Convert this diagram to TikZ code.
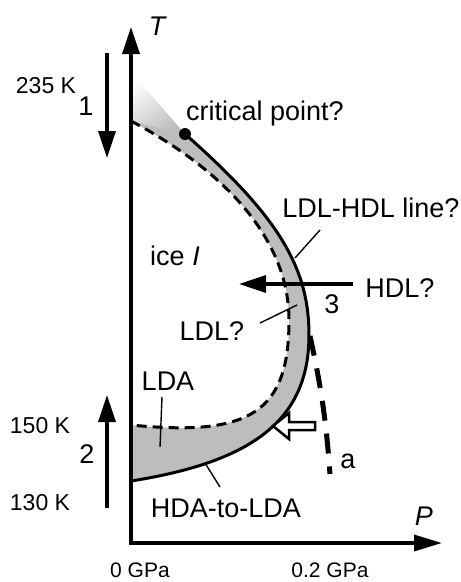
\documentclass[tikz,border=0pt]{standalone}
\usepackage{fontspec}
\setmainfont{Liberation Sans}
\usetikzlibrary{arrows.meta,positioning}
\definecolor{band}{gray}{0.74}

\begin{document}
\begin{tikzpicture}[x=1pt,y=-1pt,
    lbl/.style={anchor=base,inner sep=0pt,font=\fontsize{27}{30}\selectfont},
    tick/.style={anchor=base,inner sep=0pt,font=\fontsize{23}{26}\selectfont},
    leader/.style={line width=1.4pt},
    bigarrow/.style={line width=3.5pt,-{Triangle[length=27pt,width=17pt]}},
    dashline/.style={line width=3pt,dash pattern=on 10pt off 6pt}]
  \useasboundingbox (0,0) rectangle (461,582);

  % ends of the two lines
  \coordinate (s0) at (185,134);
  \coordinate (sm) at (309,335);
  \coordinate (s1) at (131,481);
  \coordinate (d0) at (131,121);
  \coordinate (dm) at (289,320);
  \coordinate (d1) at (131,425);

  % shaded band between the two lines
  \shade[top color=white,bottom color=band,shading angle=35]
    (131,72) -- (s0) -- (d0) -- cycle;
  \fill[band,even odd rule]
    (d0) -- (s0) .. controls (278,216) and (309,267) .. (sm)
      .. controls (309,418) and (255.6,461.4) .. (s1) -- cycle
    (d0) .. controls (233.7,175.6) and (289,245.3) .. (dm)
      .. controls (289,412) and (251,437) .. (d1) -- cycle;

  \draw[dashline] (d0) .. controls (233.7,175.6) and (289,245.3) .. (dm)
      .. controls (289,412) and (251,437) .. (d1);
  \draw[line width=3pt] (s0) .. controls (278,216) and (309,267) .. (sm)
      .. controls (309,418) and (255.6,461.4) .. (s1);
  \node[circle,fill,inner sep=0pt,minimum size=12pt] (cp) at (s0) {};

  % line a
  \coordinate (a1) at (310,336);
  \coordinate (a2) at (330,474);
  \draw[line width=5pt,dash pattern=on 20pt off 13pt] (a1) to[bend left=4] (a2);

  % axes
  \coordinate (O) at (131,543);
  \coordinate (Ttip) at (131,27);
  \coordinate (Ptip) at (442,543);
  \draw[line width=3.5pt,{Triangle[length=27pt,width=17pt]}-{Triangle[length=28pt,width=16pt]}]
    (Ttip) -- (O) -- (Ptip);
  \node[lbl] (T) at (157,35) {\itshape T};
  \node[lbl] (P) at (424,525) {\itshape P};

  % paths 1, 2, 3
  \coordinate (s1a) at (107,53);
  \coordinate (e1a) at (107,158);
  \draw[bigarrow] (s1a) -- (e1a);
  \coordinate (s2a) at (107,508);
  \coordinate (e2a) at (107,395);
  \draw[bigarrow] (s2a) -- (e2a);
  \coordinate (s3a) at (353,284);
  \coordinate (e3a) at (239,284);
  \draw[bigarrow] (s3a) -- (e3a);
  \node[lbl] (n1) at (86,115) {1};
  \node[lbl] (n2) at (87,463) {2};
  \node[lbl] (n3) at (332,313) {3};

  % open arrow
  \draw[line width=2.5pt,fill=white,line join=miter]
    (315,422) -- (289,422) -- (289,413) -- (273,426) -- (289,439) -- (289,430)
    -- (315,430) -- cycle;

  % ticks
  \node[tick] (k235) at (46,93) {235 K};
  \node[tick] (k150) at (40,433) {150 K};
  \node[tick] (k130) at (40,510) {130 K};
  \node[tick,font=\fontsize{21}{24}\selectfont] (p0) at (140,577) {0 GPa};
  \node[tick,font=\fontsize{21}{24}\selectfont] (p2) at (330,577) {0.2 GPa};

  % labels
  \node[lbl] (crit) at (265,120) {critical point?};
  \node[lbl] (ldlhdl) at (371,217) {LDL-HDL line?};
  \node[lbl] (hdl) at (400,297) {HDL?};
  \node[lbl] (ice) at (175,265) {ice \textit{I}};
  \node[lbl] (ldl) at (212,340) {LDL?};
  \node[lbl] (lda) at (168,390) {LDA};
  \node[lbl] (hda) at (226,517) {HDA-to-LDA};
  \node[lbl] (a) at (348,468) {a};

  % leaders
  \coordinate (l1a) at (320,230);
  \coordinate (l1b) at (295,258);
  \draw[leader] (l1a) -- (l1b);
  \coordinate (l2a) at (260,323);
  \coordinate (l2b) at (297,305);
  \draw[leader] (l2a) -- (l2b);
  \coordinate (l3a) at (162,397);
  \coordinate (l3b) at (160,447);
  \draw[leader] (l3a) -- (l3b);
  \coordinate (l4a) at (205,463);
  \coordinate (l4b) at (220,487);
  \draw[leader] (l4a) -- (l4b);
\end{tikzpicture}
\end{document}
